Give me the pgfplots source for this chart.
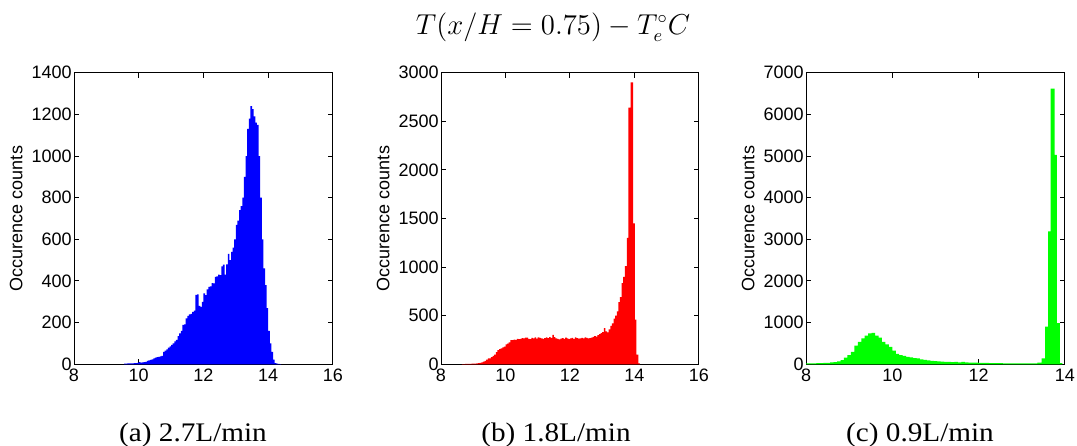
\documentclass[border=0pt]{standalone}
\usepackage{fontspec}
\setmainfont{Liberation Serif}
\setsansfont{Liberation Sans}
\usepackage{graphicx}
\usepackage{pgfplots}
\pgfplotsset{compat=1.18}

% histogram counts, left bin edges
\pgfplotstableread{
x y
9.55 3
9.60 3
9.65 4
9.70 4
9.75 5
9.80 5
9.85 6
9.90 6
9.95 7
10.00 10
10.05 8
10.10 9
10.15 10
10.20 12
10.25 16
10.30 19
10.35 21
10.40 24
10.45 28
10.50 32
10.55 34
10.60 36
10.65 38
10.70 40
10.75 60
10.80 66
10.85 72
10.90 80
10.95 86
11.00 93
11.05 100
11.10 110
11.15 117
11.20 135
11.25 149
11.30 160
11.35 189
11.40 192
11.45 220
11.50 232
11.55 240
11.60 242
11.65 252
11.70 258
11.75 333
11.80 336
11.85 280
11.90 276
11.95 300
12.00 340
12.05 332
12.10 360
12.15 372
12.20 374
12.25 390
12.30 388
12.35 420
12.40 422
12.45 430
12.50 428
12.55 470
12.60 478
12.65 430
12.70 480
12.75 530
12.80 500
12.85 540
12.90 560
12.95 600
13.00 670
13.05 690
13.10 740
13.15 760
13.20 800
13.25 900
13.30 1000
13.35 1130
13.40 1180
13.45 1240
13.50 1225
13.55 1190
13.60 1160
13.65 1150
13.70 1000
13.75 800
13.80 600
13.85 460
13.90 380
13.95 270
14.00 160
14.05 100
14.10 60
14.15 22
14.20 6
14.25 3
14.30 2
14.35 1
14.40 0
}\flowa

\pgfplotstableread{
x y
8.65 3
8.75 4
8.85 5
8.95 6
9.05 8
9.10 10
9.15 12
9.20 15
9.25 20
9.30 27
9.35 35
9.40 48
9.45 62
9.50 62
9.55 75
9.60 86
9.65 100
9.70 125
9.75 145
9.80 155
9.85 165
9.90 175
9.95 182
10.00 205
10.05 212
10.10 225
10.15 250
10.20 248
10.25 255
10.30 252
10.35 262
10.40 258
10.45 262
10.50 270
10.55 268
10.60 275
10.65 274
10.70 262
10.75 258
10.80 272
10.85 268
10.90 276
10.95 264
11.00 278
11.05 272
11.10 268
11.15 262
11.20 270
11.25 276
11.30 270
11.35 280
11.40 272
11.45 302
11.50 280
11.55 268
11.60 262
11.65 256
11.70 264
11.75 270
11.80 262
11.85 274
11.90 266
11.95 258
12.00 268
12.05 272
12.10 262
12.15 278
12.20 270
12.25 264
12.30 268
12.35 272
12.40 266
12.45 278
12.50 272
12.55 266
12.60 270
12.65 275
12.70 282
12.75 290
12.80 286
12.85 300
12.90 310
12.95 320
13.00 330
13.05 372
13.10 340
13.15 328
13.20 360
13.25 395
13.30 420
13.35 470
13.40 500
13.45 545
13.50 640
13.55 690
13.60 835
13.65 900
13.70 1010
13.76 1300
13.81 2640
13.88 2900
13.96 1450
14.01 460
14.06 100
14.12 10
14.17 0
}\flowb

\pgfplotstableread{
x y
8.00 20
8.08 22
8.16 24
8.24 26
8.32 28
8.40 32
8.48 36
8.56 45
8.64 55
8.72 70
8.80 100
8.88 160
8.96 220
9.04 300
9.12 450
9.20 540
9.28 620
9.36 690
9.44 740
9.52 755
9.60 690
9.68 640
9.76 540
9.84 480
9.92 420
10.00 330
10.08 250
10.16 220
10.24 200
10.32 180
10.40 165
10.48 150
10.56 140
10.64 120
10.72 105
10.80 95
10.88 85
10.96 78
11.04 70
11.12 65
11.20 60
11.28 56
11.36 52
11.44 60
11.52 48
11.60 58
11.68 45
11.76 42
11.84 40
11.92 38
12.00 36
12.08 34
12.16 32
12.24 30
12.32 30
12.40 28
12.48 26
12.56 25
12.64 24
12.72 22
12.80 22
12.88 21
12.96 20
13.04 20
13.12 20
13.20 22
13.28 25
13.36 40
13.46 140
13.54 905
13.61 3190
13.67 6620
13.76 5030
13.81 990
13.88 30
13.94 0
}\flowc

\pgfplotsset{
  histo/.style={
    scale only axis, height=145.8pt, anchor=south west,
    ymin=0, xmin=8,
    tick align=inside, major tick length=2.5pt,
    axis line style={black, line width=0.5pt},
    every tick/.style={black, line width=0.5pt},
    tick label style={font=\sffamily\fontsize{9}{10}\selectfont},
    /pgf/number format/assume math mode=true,
    /pgf/number format/set thousands separator={},
    scaled ticks=false,
    ylabel={Occurence counts},
    ylabel style={font=\sffamily\fontsize{9}{10}\selectfont},
    yticklabel style={inner xsep=1pt},
    xticklabel style={inner ysep=2pt},
  },
}
\newcommand\subcap[1]{\scalebox{1.09}[1]{#1}}

\begin{document}
\begin{tikzpicture}
\path[use as bounding box] (0,0) rectangle (538.5pt,-222.5pt);

\node[font=\fontsize{13.4}{15}\selectfont] at (276.5pt,-13.5pt) {$T(x/H=0.75)-T_e^{\circ}C$};

\begin{axis}[histo, at={(37pt,-182.15pt)}, width=129.5pt,
  xmax=16, ymax=1400, xtick={8,10,...,16}, ytick={0,200,...,1400}]
  \addplot[const plot, fill=blue, draw=none] table {\flowa} \closedcycle;
\end{axis}

\begin{axis}[histo, at={(220.5pt,-182.15pt)}, width=129pt,
  xmax=16, ymax=3000, xtick={8,10,...,16}, ytick={0,500,...,3000}]
  \addplot[const plot, fill=red, draw=none] table {\flowb} \closedcycle;
\end{axis}

\begin{axis}[histo, at={(403pt,-182.15pt)}, width=129.5pt,
  xmax=14, ymax=7000, xtick={8,10,...,14}, ytick={0,1000,...,7000}]
  \addplot[const plot, fill=green, draw=none] table {\flowc} \closedcycle;
\end{axis}

\node[anchor=base, inner sep=0pt, font=\fontsize{13.4}{15}\selectfont] at (96.5pt,-220.8pt) {\subcap{(a) 2.7L/min}};
\node[anchor=base, inner sep=0pt, font=\fontsize{13.4}{15}\selectfont] at (278pt,-220.8pt) {\subcap{(b) 1.8L/min}};
\node[anchor=base, inner sep=0pt, font=\fontsize{13.4}{15}\selectfont] at (460pt,-220.8pt) {\subcap{(c) 0.9L/min}};
\end{tikzpicture}
\end{document}
